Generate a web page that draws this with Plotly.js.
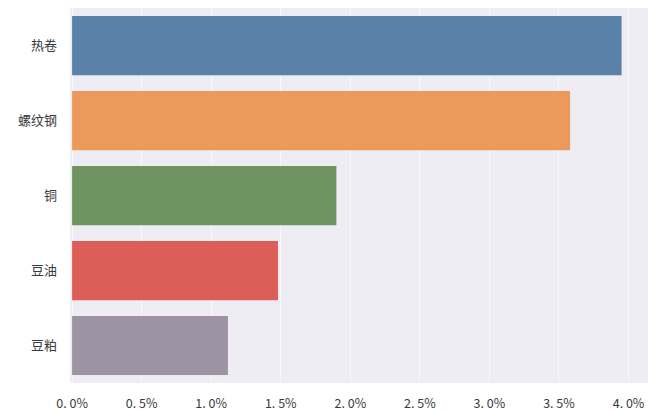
<!DOCTYPE html>
<html>
<head>
<meta charset="utf-8">
<script src="https://cdn.plot.ly/plotly-3.0.1.min.js"></script>
<style>html,body{margin:0;padding:0;background:#fff;}#chart{width:648px;height:412px;}</style>
</head>
<body>
<div id="chart"></div>
<script>
const categories = ["热卷", "螺纹钢", "铜", "豆油", "豆粕"];
const values = [3.95, 3.58, 1.90, 1.48, 1.12];
const tickVals = [0, 0.5, 1.0, 1.5, 2.0, 2.5, 3.0, 3.5, 4.0];
const tickText = ["0. 0%", "0. 5%", "1. 0%", "1. 5%", "2. 0%", "2. 5%", "3. 0%", "3. 5%", "4. 0%"];
const colors = ["#5b81a9", "#ec9a5c", "#6f9462", "#dc5e57", "#9d93a2"];

const trace = {
  type: "bar",
  orientation: "h",
  y: categories,
  x: values,
  marker: {color: colors, line: {width: 0}},
  hoverinfo: "none"
};

const layout = {
  width: 648,
  height: 412,
  margin: {l: 70, r: 0, t: 8, b: 29, pad: 0},
  paper_bgcolor: "#ffffff",
  plot_bgcolor: "#ededf3",
  bargap: 0.21,
  showlegend: false,
  font: {family: "Noto Sans CJK SC, sans-serif", size: 13, color: "#3a3a3a"},
  xaxis: {
    range: [-0.015, 4.14],
    tickvals: tickVals,
    ticktext: tickText,
    showgrid: true,
    gridcolor: "#f8f8fb",
    gridwidth: 1,
    zeroline: false,
    showline: false,
    ticks: "",
    ticklen: 0,
    tickfont: {size: 12.5, color: "#3a3a3a"},
    ticklabelstandoff: 11
  },
  yaxis: {
    autorange: "reversed",
    showgrid: false,
    zeroline: false,
    showline: false,
    ticks: "",
    ticklen: 0,
    tickfont: {size: 13, color: "#3a3a3a"},
    ticklabelstandoff: 12
  }
};

Plotly.newPlot("chart", [trace], layout, {displayModeBar: false, staticPlot: true});
</script>
</body>
</html>
